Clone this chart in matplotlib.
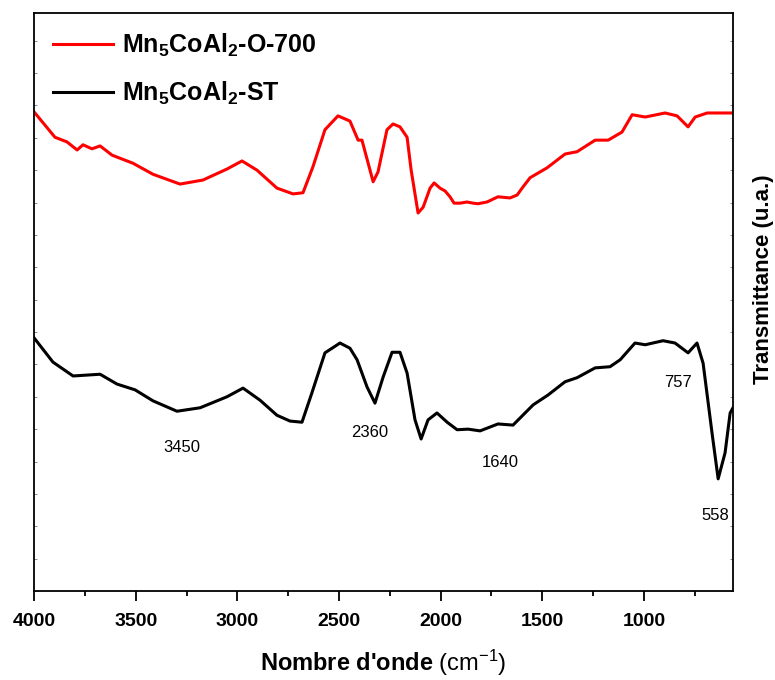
import numpy as np
import matplotlib
matplotlib.use("Agg")
import matplotlib.pyplot as plt
from matplotlib.ticker import MultipleLocator

plt.rcParams['font.family'] = ['Liberation Sans', 'DejaVu Sans']
plt.rcParams['mathtext.fontset'] = 'custom'
plt.rcParams['mathtext.rm'] = 'Liberation Sans'
plt.rcParams['mathtext.bf'] = 'Liberation Sans:bold'

# Mn5CoAl2-O-700 (red)
wn_o700 = [4000, 3897, 3838, 3788, 3759, 3715, 3675, 3616, 3513, 3415, 3282, 3169,
           3051, 2977, 2903, 2805, 2726, 2677, 2628, 2569, 2505, 2446, 2406, 2387,
           2332, 2308, 2264, 2234, 2200, 2165, 2145, 2111, 2086, 2052, 2032, 2003,
           1978, 1954, 1934, 1904, 1870, 1841, 1816, 1772, 1718, 1659, 1624, 1595,
           1560, 1477, 1388, 1329, 1240, 1176, 1108, 1058, 994, 896, 837, 783,
           748, 689, 562]
t_o700 = [82.9, 78.5, 77.7, 76.3, 77.2, 76.5, 77.0, 75.4, 74.0, 72.1, 70.4, 71.1,
          73.0, 74.4, 72.8, 69.7, 68.7, 68.9, 73.4, 79.8, 82.2, 81.3, 78.0, 78.0,
          70.8, 72.5, 79.8, 80.8, 80.3, 78.5, 72.8, 65.4, 66.4, 69.7, 70.6, 69.7,
          69.2, 68.2, 67.1, 67.1, 67.3, 67.1, 67.0, 67.3, 68.2, 68.0, 68.5, 69.9,
          71.5, 73.2, 75.6, 76.0, 78.0, 78.0, 79.4, 82.4, 82.0, 82.7, 82.2, 80.3,
          82.0, 82.7, 82.7]

# Mn5CoAl2-ST (black)
wn_st = [4000, 3907, 3808, 3675, 3592, 3503, 3415, 3297, 3183, 3051, 2972, 2888,
         2805, 2741, 2682, 2633, 2569, 2495, 2446, 2411, 2362, 2323, 2283, 2239,
         2200, 2165, 2126, 2096, 2062, 2018, 1968, 1919, 1865, 1806, 1718, 1644,
         1545, 1472, 1388, 1329, 1240, 1167, 1117, 1044, 994, 906, 847, 783,
         739, 709, 665, 635, 601, 576, 562]
t_st = [43.8, 39.6, 37.2, 37.5, 35.8, 34.8, 32.9, 31.1, 31.7, 33.6, 35.1, 33.0,
        30.4, 29.4, 29.2, 34.3, 41.2, 42.9, 42.0, 40.0, 35.3, 32.5, 37.0, 41.3,
        41.3, 37.7, 29.6, 26.3, 29.6, 30.8, 29.2, 27.9, 28.0, 27.7, 28.9, 28.7,
        32.2, 33.9, 36.2, 36.9, 38.6, 38.8, 40.0, 42.9, 42.6, 43.3, 42.9, 41.2,
        42.9, 39.4, 27.3, 19.4, 23.9, 30.8, 31.7]

# band labels: text, x, y
band_text = ['3450', '2360', '1640', '757', '558']
band_x = [3272, 2347, 1708, 832, 650]
band_y = [24.9, 27.5, 22.3, 36.0, 13.1]

fig = plt.figure(figsize=(7.75, 6.8), dpi=100)
ax = fig.add_axes([0.0439, 0.1309, 0.9019, 0.85])

ax.plot(wn_o700, t_o700, color='red', lw=2.2, label=r'$\mathbf{Mn_5CoAl_2}$-O-700')
ax.plot(wn_st, t_st, color='black', lw=2.2, label=r'$\mathbf{Mn_5CoAl_2}$-ST')

for txt, x, y in zip(band_text, band_x, band_y):
    ax.text(x, y, txt, ha='center', va='center', fontsize=12)

ax.set_xlim(4000, 562)
ax.set_ylim(0, 100)
ax.xaxis.set_major_locator(MultipleLocator(500))
ax.xaxis.set_minor_locator(MultipleLocator(250))
ax.tick_params(axis='x', which='major', direction='out', length=7, width=1.3, pad=8.5,
               labelsize=14, top=False)
ax.tick_params(axis='x', which='minor', direction='out', length=3.5, width=1.3, top=False)
for lab in ax.get_xticklabels():
    lab.set_fontweight('bold')

ax.yaxis.set_major_locator(MultipleLocator(5.6))
ax.tick_params(axis='y', which='major', direction='in', length=2, width=0.6, color='#777777',
               left=True, right=True, labelleft=False, labelright=False)

for sp in ax.spines.values():
    sp.set_linewidth(1.3)

ax.set_xlabel(r"Nombre d'onde $\mathrm{(cm^{-1})}$", fontsize=17, fontweight='bold', labelpad=13)
ax.yaxis.set_label_position('right')
ax.set_ylabel('Transmittance (u.a.)', fontsize=16, fontweight='bold')
ax.yaxis.set_label_coords(1.028, 0.54)

leg = ax.legend(loc='upper left', frameon=False, handlelength=2.4,
                handletextpad=0.35, labelspacing=0.85, borderaxespad=0.35,
                prop={'weight': 'bold', 'size': 18})

fig.savefig('out.png', dpi=100)
